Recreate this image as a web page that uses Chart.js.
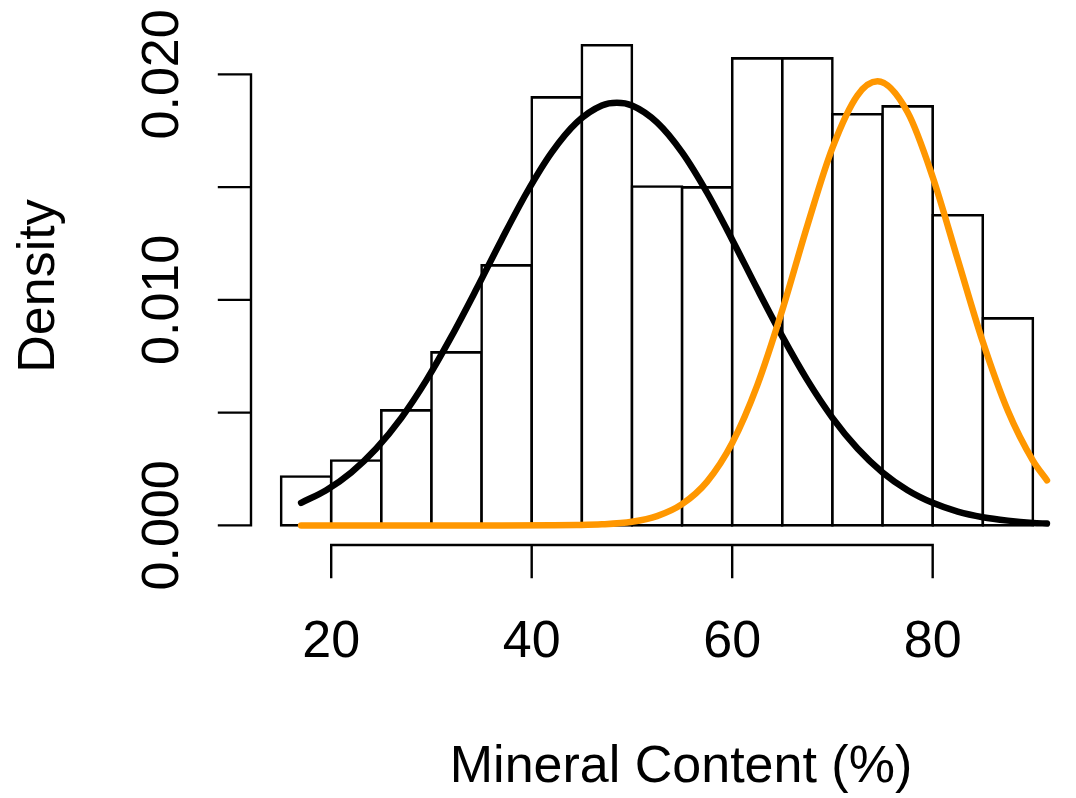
<!DOCTYPE html>
<html>
<head>
<meta charset="utf-8">
<title>Mineral Content</title>
<script src="https://cdn.jsdelivr.net/npm/chart.js@4.4.1/dist/chart.umd.min.js"></script>
<style>
  html, body { margin: 0; padding: 0; background: #fff; }
  canvas { display: block; }
</style>
</head>
<body>
<canvas id="chart" width="1076" height="798"></canvas>
<script>
// histogram: left edge of each 5% bin and its density
const binLeft = [15, 20, 25, 30, 35, 40, 45, 50, 55, 60, 65, 70, 75, 80, 85];
const binDensity = [0.00217, 0.00288, 0.0051, 0.00767, 0.01153, 0.01898, 0.02129, 0.01503,
  0.01499, 0.02071, 0.02071, 0.01823, 0.01858, 0.01375, 0.00918];

// black curve
const blackX = [17, 19.5, 22, 24.5, 27, 29.5, 32, 34.5, 37, 39.5, 42, 44.5, 47, 48.5, 50, 52.5,
  55, 57.5, 60, 62.5, 65, 67.5, 70, 72.5, 75, 77.5, 80, 82.5, 85, 87.5, 90, 91.4];
const blackY = [0.00100, 0.00156, 0.00235, 0.00341, 0.00477, 0.00644, 0.00838, 0.01049, 0.01267,
  0.01475, 0.01654, 0.01787, 0.01862, 0.01874, 0.01862, 0.01787, 0.01654, 0.01475, 0.01267,
  0.01049, 0.00838, 0.00644, 0.00477, 0.00341, 0.00235, 0.00156, 0.00100, 0.00061, 0.00036,
  0.00021, 0.00011, 0.00008];

// orange curve
const orangeX = [17, 22, 27, 32, 37, 42, 44.5, 47, 50, 52.5, 55, 57.5, 60, 62.5, 65, 67.5, 70,
  72.5, 74.5, 77.5, 80, 82.5, 85, 87.5, 90, 91.4];
const orangeY = [0, 0, 0, 0, 0, 0.000004, 0.000015, 0.000046, 0.00016, 0.00041, 0.00094, 0.00194,
  0.00365, 0.00621, 0.00955, 0.0133, 0.01674, 0.01907, 0.01969, 0.01832, 0.01545, 0.01179,
  0.00814, 0.00508, 0.00287, 0.002];

// axes
const xTicks = [20, 40, 60, 80];
const yTicks = [0, 0.005, 0.01, 0.015, 0.02];
const yTickLabels = ["0.000", "", "0.010", "", "0.020"];
const xTitle = "Mineral Content (%)";
const yTitle = "Density";

const FONT = '52px "Liberation Sans", Arial, sans-serif';
const TICK_LEN = 32;

// R style axes: line only between first and last tick, labels below / rotated
const rAxes = {
  id: "rAxes",
  afterDraw(chart) {
    const ctx = chart.ctx;
    const xs = chart.scales.x;
    const ys = chart.scales.y;
    const area = chart.chartArea;

    ctx.save();
    ctx.strokeStyle = "#000";
    ctx.fillStyle = "#000";
    ctx.lineWidth = 2.4;
    ctx.lineCap = "square";

    // x axis
    const ay = area.bottom;
    ctx.beginPath();
    ctx.moveTo(xs.getPixelForValue(xTicks[0]), ay);
    ctx.lineTo(xs.getPixelForValue(xTicks[xTicks.length - 1]), ay);
    xTicks.forEach(t => {
      const px = xs.getPixelForValue(t);
      ctx.moveTo(px, ay);
      ctx.lineTo(px, ay + TICK_LEN);
    });
    ctx.stroke();

    ctx.font = FONT;
    ctx.textAlign = "center";
    ctx.textBaseline = "alphabetic";
    xTicks.forEach(t => {
      ctx.fillText(String(t), xs.getPixelForValue(t), 657);
    });

    // y axis
    const ax = area.left;
    ctx.beginPath();
    ctx.moveTo(ax, ys.getPixelForValue(yTicks[0]));
    ctx.lineTo(ax, ys.getPixelForValue(yTicks[yTicks.length - 1]));
    yTicks.forEach(t => {
      const py = ys.getPixelForValue(t);
      ctx.moveTo(ax, py);
      ctx.lineTo(ax - TICK_LEN, py);
    });
    ctx.stroke();

    yTicks.forEach((t, i) => {
      if (!yTickLabels[i]) return;
      ctx.save();
      ctx.translate(178, ys.getPixelForValue(t));
      ctx.rotate(-Math.PI / 2);
      ctx.fillText(yTickLabels[i], 0, 0);
      ctx.restore();
    });

    // titles
    ctx.fillText(xTitle, 681, 782);
    ctx.save();
    ctx.translate(54, (area.top + area.bottom) / 2);
    ctx.rotate(-Math.PI / 2);
    ctx.fillText(yTitle, 0, 0);
    ctx.restore();

    ctx.restore();
  }
};

const ctx = document.getElementById("chart").getContext("2d");

new Chart(ctx, {
  type: "bar",
  data: {
    datasets: [
      {
        type: "line",
        label: "orange",
        data: orangeX.map((x, i) => ({ x: x, y: orangeY[i] })),
        borderColor: "#FF9700",
        borderWidth: 6.5,
        pointRadius: 0,
        fill: false,
        cubicInterpolationMode: "monotone",
        borderCapStyle: "round",
        borderJoinStyle: "round",
        order: 0
      },
      {
        type: "line",
        label: "black",
        data: blackX.map((x, i) => ({ x: x, y: blackY[i] })),
        borderColor: "#000",
        borderWidth: 6.5,
        pointRadius: 0,
        fill: false,
        cubicInterpolationMode: "monotone",
        borderCapStyle: "round",
        borderJoinStyle: "round",
        order: 1
      },
      {
        type: "bar",
        label: "histogram",
        data: binLeft.map((b, i) => ({ x: b + 2.5, y: binDensity[i] })),
        backgroundColor: "#fff",
        borderColor: "#000",
        borderWidth: 2.6,
        borderSkipped: false,
        inflateAmount: 1.3,
        barThickness: "flex",
        barPercentage: 1,
        categoryPercentage: 1,
        order: 2
      }
    ]
  },
  options: {
    responsive: false,
    animation: false,
    devicePixelRatio: 1,
    events: [],
    layout: { padding: { left: 251, right: 13, top: 27, bottom: 253 } },
    plugins: {
      legend: { display: false },
      tooltip: { enabled: false }
    },
    scales: {
      x: { type: "linear", min: 12, max: 93, offset: false, display: false },
      y: { type: "linear", min: -0.00087, max: 0.0221, display: false }
    }
  },
  plugins: [rAxes]
});
</script>
</body>
</html>
